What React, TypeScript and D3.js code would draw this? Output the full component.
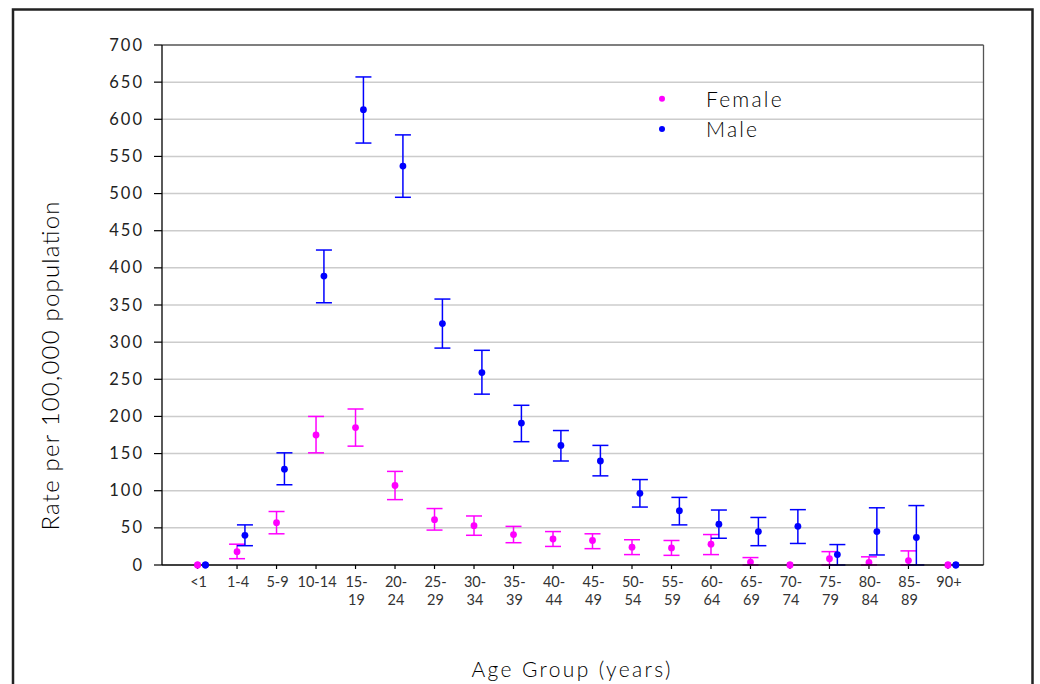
import React from "react";
import * as d3 from "d3";

const categories = ["<1","1-4","5-9","10-14","15-19","20-24","25-29","30-34","35-39","40-44","45-49","50-54","55-59","60-64","65-69","70-74","75-79","80-84","85-89","90+"];
const labelLines = [["<1"],["1-4"],["5-9"],["10-14"],["15-","19"],["20-","24"],["25-","29"],["30-","34"],["35-","39"],["40-","44"],["45-","49"],["50-","54"],["55-","59"],["60-","64"],["65-","69"],["70-","74"],["75-","79"],["80-","84"],["85-","89"],["90+"]];

const femaleRate = [0, 18, 57, 175, 185, 107, 61, 53, 41, 35, 33, 24, 23, 28, 4, 0, 8.5, 3.5, 6, 0];
const femaleLow = [0, 8.5, 42, 151, 160, 88, 47, 40, 30, 25, 22, 14, 13, 14, 0, 0, 0, 0, 0, 0];
const femaleHigh = [0, 28, 72, 200, 210, 126, 76, 66, 52, 45, 42, 34, 33, 41, 10, 0, 18, 11, 19, 0];

const maleRate = [0, 40, 129, 389, 613, 537, 325, 259, 191, 161, 140, 96.5, 73, 55, 45, 52, 14, 45, 37, 0];
const maleLow = [0, 26, 108, 353, 568, 495, 292, 230, 166, 140, 120, 78, 54, 36, 26, 29, 0, 13.5, 0, 0];
const maleHigh = [0, 54, 151, 424, 657, 579, 358, 289, 215, 181, 161, 115, 91, 74, 64, 74.5, 27.5, 77, 80, 0];

const yTicks = [0, 50, 100, 150, 200, 250, 300, 350, 400, 450, 500, 550, 600, 650, 700];

const FEMALE = "#ff00ff";
const MALE = "#0000ff";
const FONT = "Lato, 'Open Sans', sans-serif";

export default function App() {
  const left = 162, right = 983.5, top = 45, bottom = 565;
  const x = d3.scaleLinear().domain([-0.9, 19.9]).range([left, right]);
  const y = d3.scaleLinear().domain([0, 700]).range([bottom, top]);
  const offset = 0.2;
  const cap = 8;

  const series = [
    { name: "Female", color: FEMALE, rate: femaleRate, low: femaleLow, high: femaleHigh, dx: 0 },
    { name: "Male", color: MALE, rate: maleRate, low: maleLow, high: maleHigh, dx: offset },
  ];

  return (
    <svg width={1040} height={684} style={{ position: "absolute", left: 0, top: 0, background: "#fff" }}>
      <rect x={13} y={9.5} width={1019.5} height={700} fill="none" stroke="#222" strokeWidth={2.5} />
      {yTicks.filter(t => t > 0 && t < 700).map(t => (
        <line key={t} x1={left} x2={right} y1={y(t)} y2={y(t)} stroke="#cccccc" strokeWidth={1.5} />
      ))}
      <line x1={left} x2={right} y1={y(700)} y2={y(700)} stroke="#555" strokeWidth={1.3} />
      <line x1={right} x2={right} y1={top} y2={bottom} stroke="#555" strokeWidth={1.3} />
      {yTicks.map(t => (
        <g key={t}>
          <line x1={154} x2={left} y1={y(t)} y2={y(t)} stroke="#000" strokeWidth={1.2} />
          <text x={144} y={y(t) + 5.5} textAnchor="end" fontFamily={FONT} fontSize={16.5} letterSpacing={2} fill="#222">{t}</text>
        </g>
      ))}
      {categories.map((c, i) => (
        <g key={c}>
          <line x1={x(i)} x2={x(i)} y1={bottom} y2={bottom + 4} stroke="#000" strokeWidth={1.2} />
          {labelLines[i].map((ln, k) => (
            <text key={k} x={x(i) + 1} y={587 + k * 18} textAnchor="middle" fontFamily={FONT} fontSize={14.5} fill="#333">{ln}</text>
          ))}
        </g>
      ))}
      {series.map(s => (
        <g key={s.name}>
          {categories.map((c, i) => {
            const cx = x(i + s.dx);
            const hasBar = s.high[i] > s.low[i];
            return (
              <g key={c}>
                {hasBar && (
                  <g stroke={s.color} strokeWidth={1.5}>
                    <line x1={cx} x2={cx} y1={y(s.low[i])} y2={y(s.high[i])} />
                    <line x1={cx - cap} x2={cx + cap} y1={y(s.high[i])} y2={y(s.high[i])} />
                    <line x1={cx - cap} x2={cx + cap} y1={y(s.low[i])} y2={y(s.low[i])} />
                  </g>
                )}
                <circle cx={cx} cy={y(s.rate[i])} r={3.4} fill={s.color} />
              </g>
            );
          })}
        </g>
      ))}
      <line x1={left} x2={left} y1={top} y2={bottom} stroke="#000" strokeWidth={1.3} />
      <line x1={left} x2={right} y1={bottom} y2={bottom} stroke="#000" strokeWidth={1.5} />
      {series.map(s => categories.map((c, i) => s.rate[i] === 0 ? (
        <circle key={s.name + c} cx={x(i + s.dx)} cy={y(0)} r={3.4} fill={s.color} />
      ) : null))}
      <circle cx={662} cy={98.7} r={3} fill={FEMALE} />
      <text x={706} y={107} fontFamily={FONT} fontWeight={300} fontSize={21} letterSpacing={2.2} fill="#000">Female</text>
      <circle cx={662} cy={129} r={3} fill={MALE} />
      <text x={706} y={137} fontFamily={FONT} fontWeight={300} fontSize={21} letterSpacing={2.2} fill="#000">Male</text>
      <text transform="translate(59,366) rotate(-90)" textAnchor="middle" fontFamily={FONT} fontWeight={300} fontSize={24} textLength={329} lengthAdjust="spacing" fill="#000">Rate per 100,000 population</text>
      <text x={571} y={677} textAnchor="middle" fontFamily={FONT} fontWeight={300} fontSize={21} textLength={199} lengthAdjust="spacing" fill="#000">Age Group (years)</text>
    </svg>
  );
}
